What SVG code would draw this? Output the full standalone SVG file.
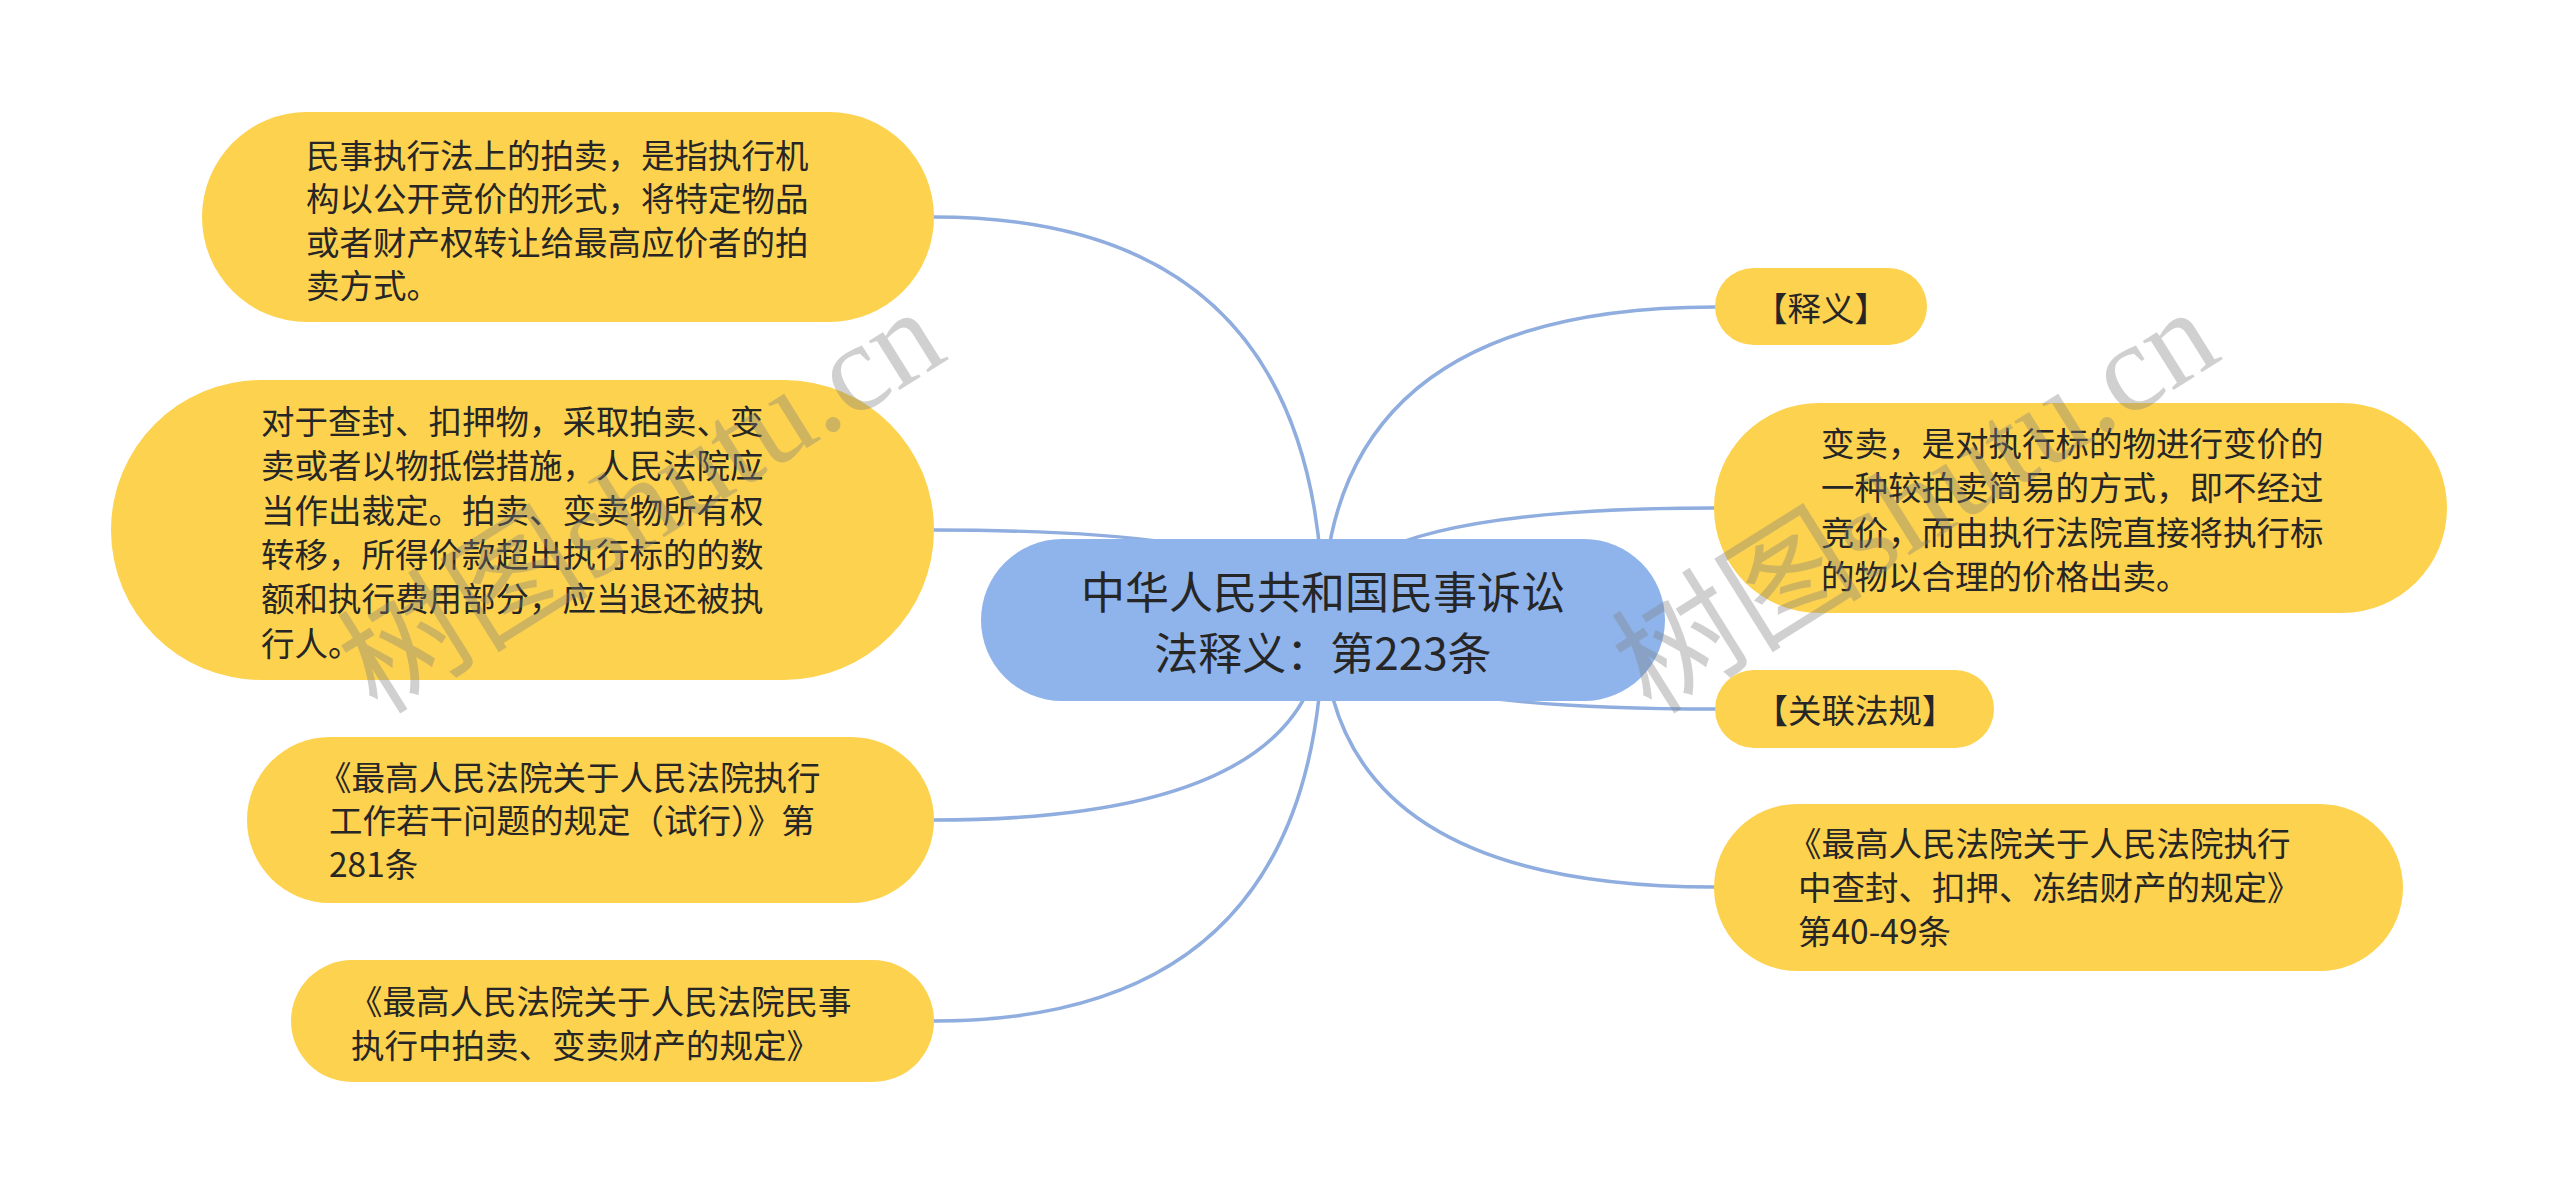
<svg xmlns="http://www.w3.org/2000/svg" width="2560" height="1195" viewBox="0 0 2560 1195">
<style>
  .bg { fill: #ffffff; }
  .leaf { fill: #fdd24f; }
  .root { fill: #8fb4eb; }
  .edge { fill: none; stroke: #8fadde; stroke-width: 3.5; stroke-linecap: round; }
  .t { font-family: "Noto Sans CJK SC", "Noto Sans", sans-serif; font-size: 33.5px; fill: #262626; }
  .rt { font-family: "Noto Sans CJK SC", "Noto Sans", sans-serif; font-size: 44px; fill: #262626; text-anchor: middle; }
  .mid { text-anchor: middle; }
  .wm { font-family: "Liberation Serif", "Noto Sans CJK SC", serif; font-size: 126px; fill: #808080; opacity: 0.36; text-anchor: middle; }
</style>
<rect class="bg" x="0" y="0" width="2560" height="1195"/>
<g id="connectors">
  <path class="edge" d="M1323,620 Q1323,217 934,217"/>
  <path class="edge" d="M1323,620 Q1323,530 934,530"/>
  <path class="edge" d="M1323,620 Q1323,820 934,820"/>
  <path class="edge" d="M1323,620 Q1323,1021 934,1021"/>
  <path class="edge" d="M1323,620 Q1323,307 1715,307"/>
  <path class="edge" d="M1323,620 Q1323,508 1714,508"/>
  <path class="edge" d="M1323,620 Q1323,709 1715,709"/>
  <path class="edge" d="M1323,620 Q1323,887 1714,887"/>
</g>
<g id="root">
  <rect class="root" x="981" y="539" width="684" height="162" rx="81"/>
  <text class="rt" x="1323" y="609">中华人民共和国民事诉讼</text>
  <text class="rt" x="1323" y="670">法释义：第223条</text>
</g>
<g id="node-paimai">
  <rect class="leaf" x="202" y="112" width="732" height="210" rx="105"/>
  <text class="t" x="306" y="168">民事执行法上的拍卖，是指执行机</text>
  <text class="t" x="306" y="211">构以公开竞价的形式，将特定物品</text>
  <text class="t" x="306" y="255">或者财产权转让给最高应价者的拍</text>
  <text class="t" x="306" y="298">卖方式。</text>
</g>
<g id="node-caiding">
  <rect class="leaf" x="111" y="380" width="823" height="300" rx="150"/>
  <text class="t" x="261" y="434">对于查封、扣押物，采取拍卖、变</text>
  <text class="t" x="261" y="478">卖或者以物抵偿措施，人民法院应</text>
  <text class="t" x="261" y="523">当作出裁定。拍卖、变卖物所有权</text>
  <text class="t" x="261" y="567">转移，所得价款超出执行标的的数</text>
  <text class="t" x="261" y="611">额和执行费用部分，应当退还被执</text>
  <text class="t" x="261" y="656">行人。</text>
</g>
<g id="node-gz281">
  <rect class="leaf" x="247" y="737" width="687" height="166" rx="83"/>
  <text class="t" x="318" y="790">《最高人民法院关于人民法院执行</text>
  <text class="t" x="329" y="833">工作若干问题的规定（试行）》第</text>
  <text class="t" x="329" y="877">281条</text>
</g>
<g id="node-paimaiguiding">
  <rect class="leaf" x="291" y="960" width="643" height="122" rx="61"/>
  <text class="t" x="349" y="1014">《最高人民法院关于人民法院民事</text>
  <text class="t" x="351" y="1058">执行中拍卖、变卖财产的规定》</text>
</g>
<g id="node-shiyi">
  <rect class="leaf" x="1715" y="268" width="212" height="77" rx="38.5"/>
  <text class="t mid" x="1821" y="321">【释义】</text>
</g>
<g id="node-bianmai">
  <rect class="leaf" x="1714" y="403" width="733" height="210" rx="105"/>
  <text class="t" x="1821" y="456">变卖，是对执行标的物进行变价的</text>
  <text class="t" x="1821" y="500">一种较拍卖简易的方式，即不经过</text>
  <text class="t" x="1821" y="545">竞价，而由执行法院直接将执行标</text>
  <text class="t" x="1821" y="589">的物以合理的价格出卖。</text>
</g>
<g id="node-guanlian">
  <rect class="leaf" x="1715" y="670" width="279" height="78" rx="39"/>
  <text class="t mid" x="1855" y="723">【关联法规】</text>
</g>
<g id="node-chafeng">
  <rect class="leaf" x="1714" y="804" width="689" height="167" rx="83.5"/>
  <text class="t" x="1788" y="856">《最高人民法院关于人民法院执行</text>
  <text class="t" x="1798" y="900">中查封、扣押、冻结财产的规定》</text>
  <text class="t" x="1798" y="944">第40-49条</text>
</g>
<g id="watermark">
  <text class="wm" transform="translate(664,537) rotate(-32)">树图shutu.cn</text>
  <text class="wm" transform="translate(1938,537) rotate(-32)">树图shutu.cn</text>
</g>
</svg>
